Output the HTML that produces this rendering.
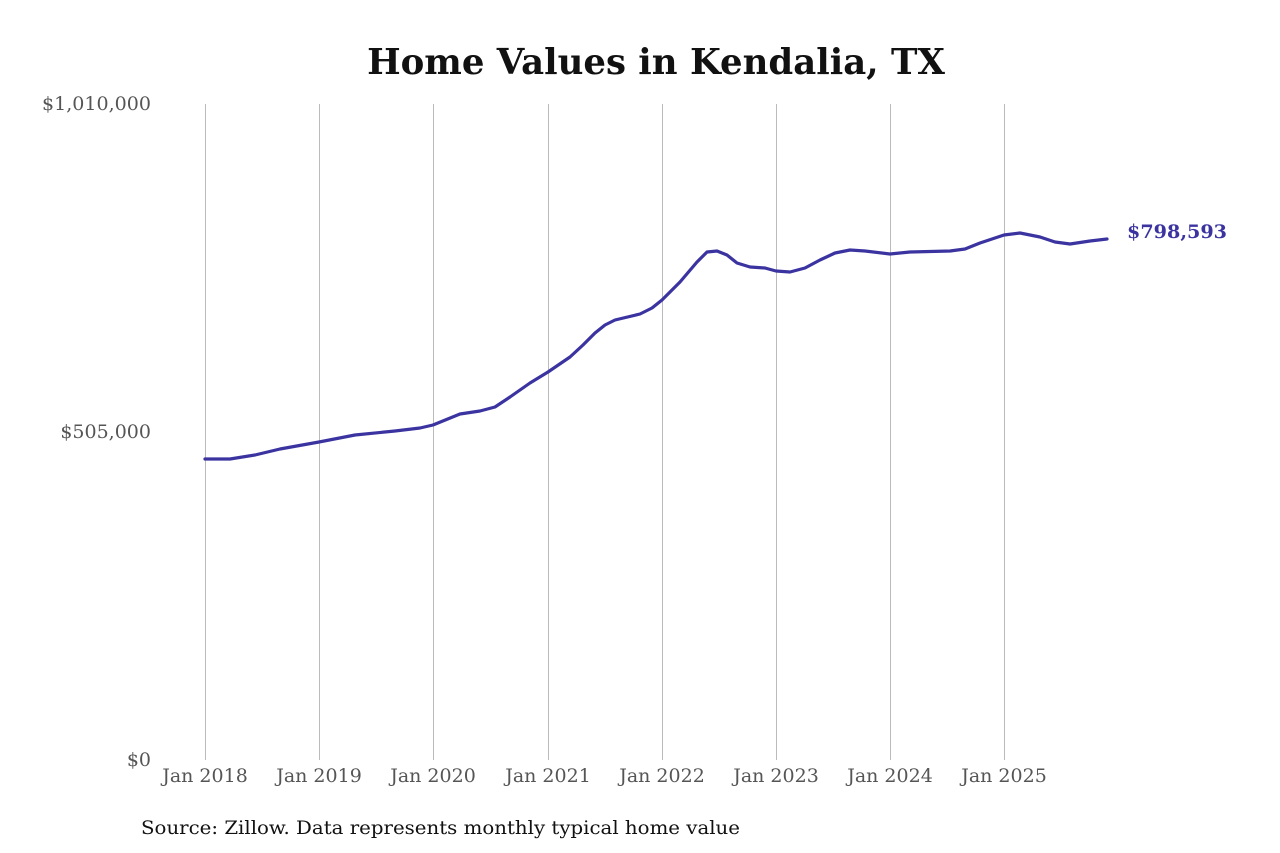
<!DOCTYPE html>
<html><head><meta charset="utf-8"><style>
html,body{margin:0;padding:0;background:#fff;}
svg{display:block;}
</style></head><body>
<svg width="1280" height="853" viewBox="0 0 1280 853" xmlns="http://www.w3.org/2000/svg">
<rect width="1280" height="853" fill="#fff"/>
<text x="656" y="74" text-anchor="middle" font-family="DejaVu Serif, Liberation Serif, serif" font-weight="bold" font-size="35.5" fill="#111">Home Values in Kendalia, TX</text>
<g stroke="#bbb" stroke-width="1">
<line x1="205.5" y1="104" x2="205.5" y2="760"/>
<line x1="319.5" y1="104" x2="319.5" y2="760"/>
<line x1="433.5" y1="104" x2="433.5" y2="760"/>
<line x1="548.5" y1="104" x2="548.5" y2="760"/>
<line x1="662.5" y1="104" x2="662.5" y2="760"/>
<line x1="776.5" y1="104" x2="776.5" y2="760"/>
<line x1="890.5" y1="104" x2="890.5" y2="760"/>
<line x1="1004.5" y1="104" x2="1004.5" y2="760"/>
</g>
<g font-family="DejaVu Serif, Liberation Serif, serif" font-size="19" fill="#555">
<text x="151" y="110" text-anchor="end" textLength="109" lengthAdjust="spacingAndGlyphs">$1,010,000</text>
<text x="151" y="438" text-anchor="end">$505,000</text>
<text x="151" y="766" text-anchor="end">$0</text>
<g text-anchor="middle">
<text x="205" y="782">Jan 2018</text>
<text x="319" y="782">Jan 2019</text>
<text x="433" y="782">Jan 2020</text>
<text x="548" y="782">Jan 2021</text>
<text x="662" y="782">Jan 2022</text>
<text x="776" y="782">Jan 2023</text>
<text x="890" y="782">Jan 2024</text>
<text x="1004" y="782">Jan 2025</text>
</g>
</g>
<polyline fill="none" stroke="#3b34a0" stroke-width="3.2" stroke-linejoin="round" stroke-linecap="round" points="205,459 230,459 255,455 280,449 319,442 355,435 395,431 420,428 433,425 460,414 480,411 495,407 510,397 530,383 548,372 570,357 583,345 595,333 605,325 615,320 640,314 652,308 662,300 680,282 697,262 707,252 717,251 727,255 737,263 750,267 765,268 776,271 790,272 805,268 820,260 835,253 850,250 865,251 890,254 910,252 950,251 965,249 980,243 1004,235 1020,233 1040,237 1055,242 1070,244 1090,241 1107,239"/>
<text x="1127" y="238" font-family="DejaVu Serif, Liberation Serif, serif" font-weight="bold" font-size="19" fill="#3b34a0" textLength="100" lengthAdjust="spacingAndGlyphs">$798,593</text>
<text x="141" y="834" font-family="DejaVu Serif, Liberation Serif, serif" font-size="19" fill="#111" textLength="599" lengthAdjust="spacingAndGlyphs">Source: Zillow. Data represents monthly typical home value</text>
</svg>
</body></html>
